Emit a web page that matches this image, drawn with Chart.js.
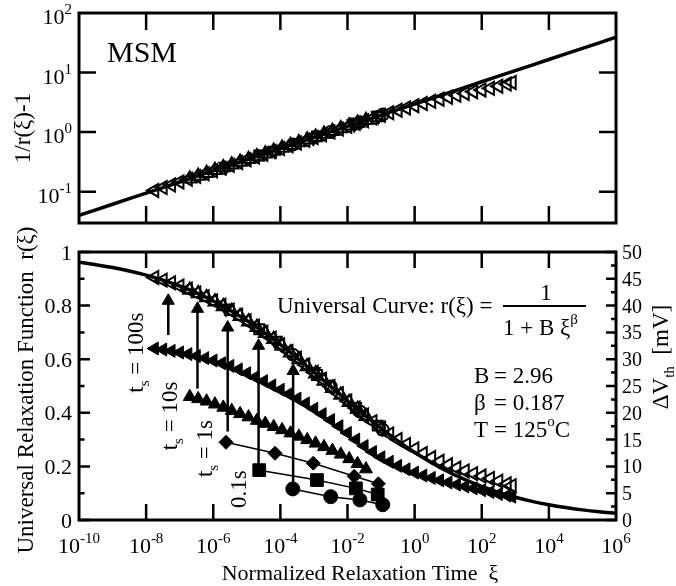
<!DOCTYPE html>
<html><head><meta charset="utf-8">
<script src="https://cdn.jsdelivr.net/npm/chart.js@4.4.1/dist/chart.umd.min.js"></script>
<style>
html,body{margin:0;padding:0;background:#fff;}
#wrap{position:relative;width:676px;height:586px;overflow:hidden;background:#fff;}
canvas{position:absolute;left:0;}
#cTop{top:0;}
#cBot{top:200px;}
</style></head><body>
<div id="wrap">
<canvas id="cTop" width="676" height="235"></canvas>
<canvas id="cBot" width="676" height="386"></canvas>
</div>
<script>
// ---------- data (log10 of xi, and r values) ----------
const xTickExps = [-10,-8,-6,-4,-2,0,2,4,6];
const topYTickExps = [-1,0,1,2];
const rTicks = [0,0.2,0.4,0.6,0.8,1];
const rTickLabels = ['0','0.2','0.4','0.6','0.8','1'];
const dvTicks = [0,5,10,15,20,25,30,35,40,45,50];

const curveLogXi = [-10,-9.5,-9,-8.5,-8,-7.5,-7,-6.5,-6,-5.5,-5,-4.5,-4,-3.5,-3,-2.5,-2,-1.5,-1,-0.5,0,0.5,1,1.5,2,2.5,3,3.5,4,4.5,5,5.5,6];
const curveR = [0.9616,0.9528,0.9421,0.9292,0.9137,0.8951,0.8731,0.8473,0.8173,0.7830,0.7442,0.7011,0.6542,0.6040,0.5514,0.4978,0.4442,0.3919,0.3420,0.2953,0.2525,0.2141,0.1801,0.1504,0.1250,0.1032,0.0849,0.0696,0.0569,0.0464,0.0378,0.0307,0.0249];

const ts100LogXi = [-7.75,-7.5,-7.25,-7,-6.75,-6.5,-6.25,-6,-5.75,-5.5,-5.25,-5,-4.75,-4.5,-4.25,-4,-3.75,-3.5,-3.25,-3,-2.75,-2.5,-2.25,-2,-1.75,-1.5,-1.25,-1,-0.75,-0.5,-0.25,0,0.25,0.5,0.75,1,1.25,1.5,1.75,2,2.25,2.5,2.75,2.9];
const ts100R = [0.640,0.636,0.631,0.625,0.619,0.612,0.604,0.595,0.585,0.575,0.562,0.548,0.533,0.518,0.502,0.486,0.470,0.453,0.435,0.415,0.395,0.373,0.350,0.325,0.300,0.276,0.254,0.234,0.217,0.202,0.189,0.177,0.166,0.157,0.148,0.140,0.132,0.125,0.118,0.111,0.104,0.097,0.091,0.087];
const ts100OpenR = [0.905,0.895,0.885,0.873,0.861,0.847,0.833,0.817,0.801,0.783,0.764,0.744,0.723,0.701,0.678,0.654,0.629,0.604,0.578,0.551,0.525,0.498,0.471,0.444,0.418,0.392,0.367,0.343,0.321,0.300,0.282,0.265,0.248,0.233,0.219,0.206,0.194,0.183,0.173,0.164,0.155,0.145,0.135,0.128];

const ts10LogXi = [-6.7,-6.45,-6.2,-5.95,-5.7,-5.45,-5.2,-4.95,-4.7,-4.45,-4.2,-3.95,-3.7,-3.45,-3.2,-2.95,-2.7,-2.45,-2.2,-1.95,-1.7,-1.45];
const ts10R = [0.460,0.452,0.443,0.432,0.420,0.408,0.396,0.384,0.371,0.360,0.348,0.336,0.324,0.312,0.299,0.286,0.273,0.259,0.245,0.228,0.210,0.190];
const ts10OpenR = [0.858,0.845,0.830,0.814,0.797,0.779,0.760,0.740,0.719,0.697,0.674,0.649,0.624,0.599,0.573,0.546,0.519,0.492,0.466,0.439,0.413,0.387];

const ts1LogXi = [-5.62,-4.16,-3.02,-1.8,-1.08];
const ts1R = [0.290,0.249,0.212,0.163,0.135];
const ts1OpenR = [0.790,0.670,0.553,0.423,0.350];

const ts01LogXi = [-4.63,-2.91,-1.75,-1.1];
const ts01R = [0.186,0.149,0.118,0.095];
const ts01OpenR = [0.712,0.541,0.418,0.352];

const circLogXi = [-3.63,-2.5,-1.63,-0.95];
const circR = [0.116,0.087,0.075,0.057];
const circOpenR = [0.617,0.498,0.405,0.337];

const arrowLogXi = [-7.34,-6.47,-5.57,-4.65,-3.62];
const arrowFromR = [0.69,0.49,0.33,0.20,0.125];
const arrowHeadR = [0.818,0.788,0.718,0.650,0.556];

// ---------- helpers ----------
const FAM = '"Liberation Serif","Times New Roman",Times,serif';
const fnt = s => s + 'px ' + FAM;
const P = (Ls, Rs) => Ls.map((L, i) => ({x: Math.pow(10, L), y: Rs[i]}));
const inv = r => 1 / r - 1;

function drawParts(ctx, parts, x, y, align) {
  let w = 0;
  parts.forEach(p => { ctx.font = fnt(p.s); p.w = ctx.measureText(p.t).width; w += p.w; });
  let cx = align === 'center' ? x - w / 2 : (align === 'right' ? x - w : x);
  ctx.textAlign = 'left'; ctx.textBaseline = 'alphabetic';
  parts.forEach(p => { ctx.font = fnt(p.s); ctx.fillText(p.t, cx, y + (p.dy || 0)); cx += p.w; });
  return w;
}
function drawRot(ctx, parts, bx, by, align) {
  ctx.save(); ctx.translate(bx, by); ctx.rotate(-Math.PI / 2);
  drawParts(ctx, parts, 0, 0, align); ctx.restore();
}
const pow10 = e => [{t: '10', s: 22}, {t: String(e), s: 15, dy: -10}];

function openSet(data, style, rot, extra) {
  return Object.assign({data, showLine: false, pointStyle: style, pointRotation: rot || 0, pointRadius: 7.5,
    pointBackgroundColor: 'rgba(0,0,0,0)', pointBorderColor: '#000', pointBorderWidth: 2}, extra || {});
}
function filledSet(data, style, rot, rad, line) {
  return {data, showLine: !!line, borderColor: '#000', borderWidth: 1.5, pointStyle: style, pointRotation: rot || 0,
    pointRadius: rad, pointBackgroundColor: '#000', pointBorderColor: '#000', pointBorderWidth: 1};
}

const baseOpts = (pad, yScale, extraScales) => ({
  responsive: false, animation: false, devicePixelRatio: 1, events: [],
  layout: {padding: pad},
  plugins: {legend: {display: false}, tooltip: {enabled: false}},
  scales: Object.assign({
    x: {type: 'logarithmic', min: 1e-10, max: 1e6, display: false},
    y: yScale
  }, extraScales || {})
});

// ---------- top chart ----------
const topDecor = {
  id: 'topDecor',
  afterDatasetsDraw(chart) {
    const {ctx, chartArea: a, scales: {x, y}} = chart;
    ctx.save();
    ctx.strokeStyle = '#000'; ctx.fillStyle = '#000'; ctx.lineWidth = 2.5;
    ctx.beginPath();
    xTickExps.forEach(e => {
      const px = x.getPixelForValue(Math.pow(10, e));
      if (px <= a.left + 1 || px >= a.right - 1) return;
      ctx.moveTo(px, a.bottom); ctx.lineTo(px, a.bottom - 17);
      ctx.moveTo(px, a.top); ctx.lineTo(px, a.top + 17);
    });
    topYTickExps.forEach(e => {
      const py = y.getPixelForValue(Math.pow(10, e));
      if (py <= a.top + 1) return;
      ctx.moveTo(a.left, py); ctx.lineTo(a.left + 17, py);
      ctx.moveTo(a.right, py); ctx.lineTo(a.right - 17, py);
    });
    ctx.stroke();
    ctx.lineWidth = 3;
    ctx.strokeRect(a.left, a.top, a.right - a.left, a.bottom - a.top);
    topYTickExps.forEach(e => {
      const py = y.getPixelForValue(Math.pow(10, e));
      drawParts(ctx, pow10(e), 72, py + 11, 'right');
    });
    drawRot(ctx, [{t: '1/r(ξ)-1', s: 23}], 30, 128, 'center');
    ctx.font = fnt(30); ctx.textAlign = 'left'; ctx.fillText('MSM', 107, 62);
    ctx.restore();
  }
};

new Chart(document.getElementById('cTop'), {
  type: 'scatter',
  data: {datasets: [
    {data: P(curveLogXi, curveR.map(inv)), showLine: true, borderColor: '#000', borderWidth: 3.5, pointRadius: 0},
    openSet(P(ts100LogXi, ts100OpenR.map(inv)), 'triangle', -90),
    openSet(P(ts10LogXi, ts10OpenR.map(inv)), 'triangle', 0),
    openSet(P(ts1LogXi, ts1OpenR.map(inv)), 'triangle', 180),
    openSet(P(ts01LogXi, ts01OpenR.map(inv)), 'rect', 0, {pointRadius: 7}),
    openSet(P(circLogXi, circOpenR.map(inv)), 'circle', 0, {pointRadius: 6})
  ]},
  options: baseOpts({left: 79, right: 60, top: 13, bottom: 12},
    {type: 'logarithmic', min: Math.pow(10, -1.526), max: 100, display: false}),
  plugins: [topDecor]
});

// ---------- bottom chart ----------
const botDecor = {
  id: 'botDecor',
  afterDatasetsDraw(chart) {
    const {ctx, chartArea: a, scales: {x, y, y2}} = chart;
    ctx.save();
    ctx.strokeStyle = '#000'; ctx.fillStyle = '#000'; ctx.lineWidth = 2.5;
    ctx.beginPath();
    xTickExps.forEach(e => {
      const px = x.getPixelForValue(Math.pow(10, e));
      if (px <= a.left + 1 || px >= a.right - 1) return;
      ctx.moveTo(px, a.bottom); ctx.lineTo(px, a.bottom - 16);
      ctx.moveTo(px, a.top); ctx.lineTo(px, a.top + 16);
    });
    rTicks.forEach((v, i) => {
      const py = y.getPixelForValue(v);
      ctx.moveTo(a.left, py); ctx.lineTo(a.left + 11, py);
      if (i < rTicks.length - 1) {
        const pm = y.getPixelForValue((v + rTicks[i + 1]) / 2);
        ctx.moveTo(a.left, pm); ctx.lineTo(a.left + 5.5, pm);
      }
    });
    dvTicks.forEach((v, i) => {
      const py = y2.getPixelForValue(v);
      ctx.moveTo(a.right, py); ctx.lineTo(a.right - 10, py);
      if (i < dvTicks.length - 1) {
        const pm = y2.getPixelForValue((v + dvTicks[i + 1]) / 2);
        ctx.moveTo(a.right, pm); ctx.lineTo(a.right - 5, pm);
      }
    });
    ctx.stroke();
    ctx.lineWidth = 3;
    ctx.strokeRect(a.left, a.top, a.right - a.left, a.bottom - a.top);

    // tick labels
    xTickExps.forEach(e => {
      const px = x.getPixelForValue(Math.pow(10, e));
      drawParts(ctx, pow10(e), px, a.bottom + 33, 'center');
    });
    rTicks.forEach((v, i) => {
      drawParts(ctx, [{t: rTickLabels[i], s: 22}], 72, y.getPixelForValue(v) + 7.5, 'right');
    });
    dvTicks.forEach(v => {
      drawParts(ctx, [{t: String(v), s: 20}], a.right + 6, y2.getPixelForValue(v) + 7, 'left');
    });

    // axis titles
    drawParts(ctx, [{t: 'Normalized Relaxation Time  ξ', s: 22}], 360, a.bottom + 60, 'center');
    drawRot(ctx, [{t: 'Universal Relaxation Function  r(ξ)', s: 23}], 33, (a.top + a.bottom) / 2 + 4, 'center');
    drawRot(ctx, [{t: 'ΔV', s: 23}, {t: 'th', s: 15, dy: 6}, {t: '  [mV]', s: 23}], a.right + 52, a.top + 105, 'center');

    // annotations
    const T = a.top; // plot top (252 on page)
    drawParts(ctx, [{t: 'Universal Curve: r(ξ) = ', s: 23}], 277, T + 61, 'left');
    drawParts(ctx, [{t: '1', s: 23}], 546, T + 48, 'center');
    ctx.lineWidth = 2.2; ctx.beginPath(); ctx.moveTo(503, T + 54); ctx.lineTo(586, T + 54); ctx.stroke();
    drawParts(ctx, [{t: '1 + B ξ', s: 23}, {t: 'β', s: 15, dy: -11}], 503, T + 83, 'left');
    drawParts(ctx, [{t: 'B', s: 23}], 474, T + 131, 'left');
    drawParts(ctx, [{t: '= 2.96', s: 23}], 494, T + 131, 'left');
    drawParts(ctx, [{t: 'β', s: 23}], 474, T + 158, 'left');
    drawParts(ctx, [{t: '= 0.187', s: 23}], 494, T + 158, 'left');
    drawParts(ctx, [{t: 'T', s: 23}], 474, T + 185, 'left');
    drawParts(ctx, [{t: '= 125', s: 23}, {t: 'o', s: 15, dy: -11}, {t: 'C', s: 23}], 494, T + 185, 'left');

    // rotated t_s labels
    const ts = (val) => [{t: 't', s: 23}, {t: 's', s: 15, dy: 6}, {t: ' = ' + val, s: 23}];
    drawRot(ctx, ts('100s'), 143, y.getPixelForValue(0.475), 'left');
    drawRot(ctx, ts('10s'), 177, y.getPixelForValue(0.26), 'left');
    drawRot(ctx, ts('1s'), 212, y.getPixelForValue(0.16), 'left');
    drawRot(ctx, [{t: '0.1s', s: 23}], 246, y.getPixelForValue(0.045), 'left');
    ctx.restore();
  }
};

const arrowSets = arrowLogXi.map((L, i) => ({
  data: P([L, L], [arrowFromR[i], arrowHeadR[i]]), showLine: true, borderColor: '#000', borderWidth: 2.5,
  pointStyle: 'triangle', pointRadius: [0, 7], pointBackgroundColor: '#000', pointBorderColor: '#000', pointBorderWidth: 1
}));

new Chart(document.getElementById('cBot'), {
  type: 'scatter',
  data: {datasets: [
    {data: P(curveLogXi, curveR), showLine: true, borderColor: '#000', borderWidth: 3.5, pointRadius: 0, cubicInterpolationMode: 'monotone'},
    ...arrowSets,
    filledSet(P(ts100LogXi, ts100R), 'triangle', -90, 7.5, false),
    filledSet(P(ts10LogXi, ts10R), 'triangle', 0, 7.5, false),
    filledSet(P(ts1LogXi, ts1R), 'rectRot', 0, 7, true),
    filledSet(P(ts01LogXi, ts01R), 'rect', 0, 9, true),
    filledSet(P(circLogXi, circR), 'circle', 0, 7, true),
    openSet(P(ts100LogXi, ts100OpenR), 'triangle', -90),
    openSet(P(ts10LogXi, ts10OpenR), 'triangle', 0),
    openSet(P(ts1LogXi, ts1OpenR), 'triangle', 180),
    openSet(P(ts01LogXi, ts01OpenR), 'rect', 0, {pointRadius: 7}),
    openSet(P(circLogXi, circOpenR), 'circle', 0, {pointRadius: 6})
  ]},
  options: baseOpts({left: 79, right: 60, top: 52, bottom: 66},
    {type: 'linear', min: 0, max: 1, display: false},
    {y2: {type: 'linear', position: 'right', min: 0, max: 50, display: false}}),
  plugins: [botDecor]
});
</script>
</body></html>
